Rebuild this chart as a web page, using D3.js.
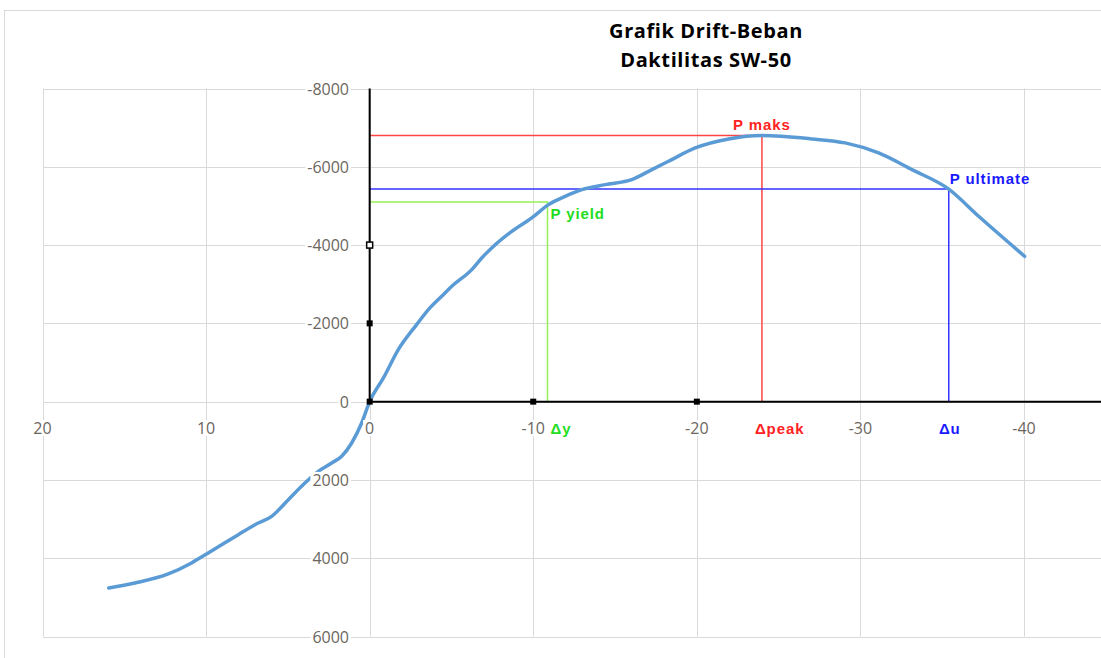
<!DOCTYPE html>
<html>
<head>
<meta charset="utf-8">
<script src="https://cdn.jsdelivr.net/npm/d3@7"></script>
<style>
  body { margin: 0; background: #fff; }
  svg { display: block; }
</style>
</head>
<body>
<div class="graph"></div>
<script>
const w = 1101;
const h = 658;

// drift (mm) vs load (kg)
const drift = [15.95, 14.35, 12.31, 10.89, 9.87, 8.03, 7.01, 5.99, 4.97, 3.96, 3.14, 2.32, 1.71, 1.10, 0.49, 0,
  -0.84, -1.75, -2.87, -3.59, -4.40, -5.02, -6.24, -6.85, -7.46, -8.69, -9.91, -10.93, -11.95,
  -12.97, -14.4, -16.02, -17.25, -18.27, -19.9, -21.94, -23.98, -27.03, -29.07, -31.11, -33.15,
  -35.4, -37.23, -40.04];
const load = [4760, 4633, 4403, 4121, 3866, 3398, 3143, 2930, 2504, 2079, 1780, 1567, 1396, 1056, 545, 0,
  -605, -1329, -1967, -2350, -2690, -2946, -3373, -3671, -3927, -4352, -4693, -5033, -5246,
  -5417, -5544, -5672, -5928, -6141, -6482, -6712, -6800, -6712, -6610, -6354, -5928,
  -5430, -4735, -3712];

// axis ticks
const xTicks = [20, 10, 0, -10, -20, -30, -40, -50];
const xTickLabels = ["20", "10", "0", "-10", "-20", "-30", "-40"];
const yTicks = [-8000, -6000, -4000, -2000, 0, 2000, 4000, 6000];
const yTickLabels = ["-8000", "-6000", "-4000", "-2000", "0", "2000", "4000", "6000"];

// black axis series markers
const axisMarkX = [0, 0, 0, -10, -20];
const axisMarkY = [-4000, -2000, 0, 0, 0];

// reference points
const refName = ["P yield", "P maks", "P ultimate"];
const refDelta = ["\u0394y", "\u0394peak", "\u0394u"];
const refDrift = [-10.87, -23.98, -35.4];
const refLoad = [-5100, -6800, -5430];
const refLine = ["#99ee55", "#ff4444", "#3333ff"];
const refText = ["#22dd22", "#ff2222", "#1a1aff"];

const plot = {left: 43, top: 88.5, bottom: 636.5};

const svg = d3.select('.graph')
  .append("svg")
  .attr("width", w)
  .attr("height", h);

// chart border
svg.append("rect")
  .attr("x", 4.5).attr("y", 10.5)
  .attr("width", w + 20).attr("height", h + 20)
  .attr("fill", "none")
  .attr("stroke", "#d9d9d9");

const x = d3.scaleLinear().domain([20, -40]).range([42.5, 1024]);
const y = d3.scaleLinear().domain([-8000, 6000]).range([plot.top, plot.bottom]);

// title
const title = svg.append("text")
  .attr("text-anchor", "middle")
  .style("font-family", "'Open Sans', sans-serif")
  .style("font-weight", "bold")
  .style("font-size", "20px")
  .style("letter-spacing", "0.6px")
  .attr("fill", "#000");
title.append("tspan").attr("x", 706).attr("y", 38).text("Grafik Drift-Beban");
title.append("tspan").attr("x", 706).attr("y", 67).text("Daktilitas SW-50");

// gridlines
const grid = svg.append("g").attr("stroke", "#d9d9d9").attr("stroke-width", 1);
grid.selectAll(".gx")
  .data(xTicks)
  .enter().append("line")
  .attr("x1", d => Math.round(x(d)) + 0.5)
  .attr("x2", d => Math.round(x(d)) + 0.5)
  .attr("y1", plot.top)
  .attr("y2", plot.bottom);
grid.selectAll(".gy")
  .data(yTicks)
  .enter().append("line")
  .attr("x1", plot.left)
  .attr("x2", w + 10)
  .attr("y1", d => Math.round(y(d)) + 0.5)
  .attr("y2", d => Math.round(y(d)) + 0.5);

// reference lines
refName.forEach((n, i) => {
  svg.append("path")
    .attr("d", `M${x(0)},${y(refLoad[i])}H${x(refDrift[i])}V${y(0)}`)
    .attr("fill", "none")
    .attr("stroke", refLine[i])
    .attr("stroke-width", 1.5);
});

// curve
const line = d3.line()
  .x((d, i) => x(drift[i]))
  .y((d, i) => y(load[i]))
  .curve(d3.curveMonotoneX);

svg.append("path")
  .datum(drift)
  .attr("d", line)
  .attr("fill", "none")
  .attr("stroke", "#5b9bd5")
  .attr("stroke-width", 3.5)
  .attr("stroke-linecap", "round")
  .attr("stroke-linejoin", "round");

// black axis series
svg.append("path")
  .attr("d", `M${x(0)},${y(-8000)}V${y(0)}H${w + 10}`)
  .attr("fill", "none")
  .attr("stroke", "#000")
  .attr("stroke-width", 2);

svg.selectAll(".mark")
  .data(axisMarkX)
  .enter().append("rect")
  .attr("x", (d, i) => x(d) - 3)
  .attr("y", (d, i) => y(axisMarkY[i]) - 3)
  .attr("width", 6)
  .attr("height", 6)
  .attr("fill", (d, i) => i === 0 ? "#fff" : "#000")
  .attr("stroke", "#000")
  .attr("stroke-width", (d, i) => i === 0 ? 1.5 : 0);

// tick labels with white background
function label(g, tx, ty, txt, anchor) {
  const t = g.append("text")
    .attr("x", tx)
    .attr("y", ty)
    .attr("text-anchor", anchor)
    .style("font-family", "'Open Sans', sans-serif")
    .style("font-size", "16px")
    .attr("fill", "#6b6660")
    .text(txt);
  const b = t.node().getBBox();
  g.insert("rect", "text")
    .attr("x", b.x - 2).attr("y", b.y + 3)
    .attr("width", b.width + 4).attr("height", b.height - 6)
    .attr("fill", "#fff");
}

const labels = svg.append("g");
yTicks.forEach((d, i) => {
  const g = labels.append("g");
  label(g, 349, y(d) + 6, yTickLabels[i], "end");
});
xTickLabels.forEach((t, i) => {
  const g = labels.append("g");
  label(g, x(xTicks[i]), 434, t, "middle");
});

// reference labels
const refFont = g => g
  .style("font-family", "'Liberation Sans', Arial, sans-serif")
  .style("font-weight", "bold")
  .style("font-size", "15px")
  .style("letter-spacing", "0.9px");

svg.append("text").call(refFont)
  .attr("x", x(refDrift[0]) + 3).attr("y", y(refLoad[0]) + 17)
  .attr("fill", refText[0]).text(refName[0]);
svg.append("text").call(refFont)
  .attr("x", x(refDrift[1])).attr("y", y(refLoad[1]) - 5)
  .attr("text-anchor", "middle")
  .attr("fill", refText[1]).text(refName[1]);
svg.append("text").call(refFont)
  .attr("x", x(refDrift[2]) + 1).attr("y", y(refLoad[2]) - 5)
  .attr("fill", refText[2]).text(refName[2]);

// delta labels under the x axis
svg.append("text").call(refFont)
  .attr("x", x(refDrift[0]) + 3).attr("y", 434)
  .attr("fill", refText[0]).text(refDelta[0]);
svg.append("text").call(refFont)
  .attr("x", x(refDrift[1]) - 7).attr("y", 434)
  .attr("fill", refText[1]).text(refDelta[1]);
svg.append("text").call(refFont)
  .attr("x", x(refDrift[2]) + 1).attr("y", 434)
  .attr("text-anchor", "middle")
  .attr("fill", refText[2]).text(refDelta[2]);
</script>
</body>
</html>
